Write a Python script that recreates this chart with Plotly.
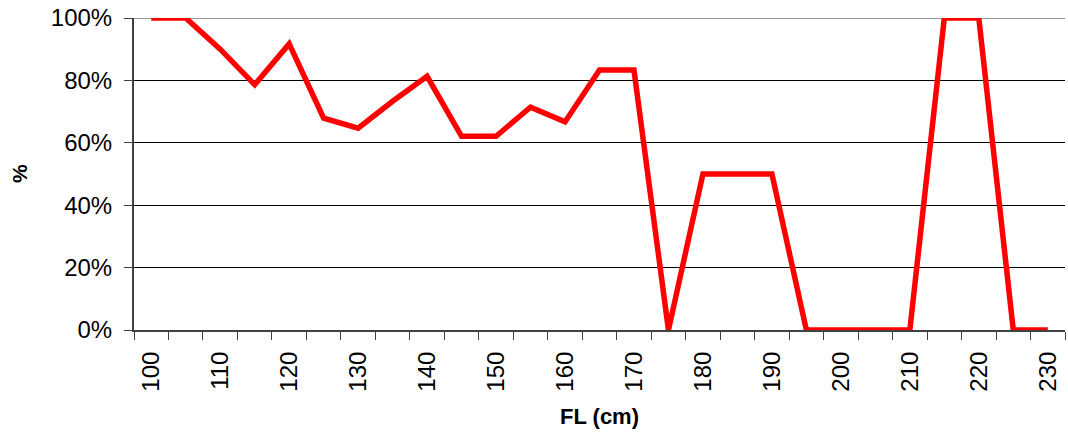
import plotly.graph_objects as go

fl_cm = [100, 105, 110, 115, 120, 125, 130, 135, 140, 145, 150, 155, 160, 165, 170,
         175, 180, 185, 190, 195, 200, 205, 210, 215, 220, 225, 230]
pct = [100, 100, 90, 78.6, 91.7, 67.9, 64.7, 73.3, 81.3, 62.1, 62.1, 71.4, 66.7, 83.3, 83.3,
       0, 50, 50, 50, 0, 0, 0, 0, 100, 100, 0, 0]
x_ticks = list(range(100, 231, 10))
y_ticks = [0, 20, 40, 60, 80, 100]

font_family = "Liberation Sans, Arial, sans-serif"

fig = go.Figure()
fig.add_trace(go.Scatter(x=fl_cm, y=pct, mode="lines",
                         line=dict(color="#ff0000", width=5.5), hoverinfo="x+y"))

fig.add_shape(type="line", xref="paper", yref="y", x0=0, x1=1, y0=100, y1=100,
              line=dict(color="#9a9a9a", width=2), layer="below")

fig.add_annotation(text="<b>%</b>", xref="paper", yref="paper", x=0, y=0.5,
                   xanchor="center", yanchor="middle", xshift=-115, textangle=-90,
                   showarrow=False, font=dict(size=21, family=font_family, color="black"))

fig.update_layout(
    width=1068, height=436,
    margin=dict(l=134, r=3, t=18, b=106),
    paper_bgcolor="white", plot_bgcolor="white",
    showlegend=False,
    font=dict(family=font_family, color="black", size=24),
    xaxis=dict(
        range=[97.5, 232.5], automargin=False,
        tickvals=x_ticks, ticktext=[str(v) for v in x_ticks],
        tickangle=-90, ticks="", ticklen=0, ticklabelstandoff=10,
        ticklabeloverflow="allow",
        showgrid=False, zeroline=False,
        showline=True, linecolor="#404040", linewidth=2,
        tickfont=dict(size=24),
        minor=dict(tick0=97.5, dtick=5, ticks="outside", ticklen=8,
                   tickcolor="#404040", tickwidth=1, showgrid=False),
        title=dict(text="<b>FL (cm)</b>", font=dict(size=22), standoff=18),
    ),
    yaxis=dict(
        range=[0, 100], automargin=False,
        tickvals=y_ticks, ticktext=[f"{v}%" for v in y_ticks],
        ticks="outside", ticklen=8, tickcolor="#404040", ticklabelstandoff=7,
        ticklabeloverflow="allow",
        showgrid=True, gridcolor="black", gridwidth=1,
        zeroline=False,
        showline=True, linecolor="#404040", linewidth=2,
        tickfont=dict(size=24),
    ),
)

fig.write_html(
    "out.html",
    config={"displayModeBar": False},
    post_script="document.body.style.margin='0';document.body.style.overflow='hidden';",
)
